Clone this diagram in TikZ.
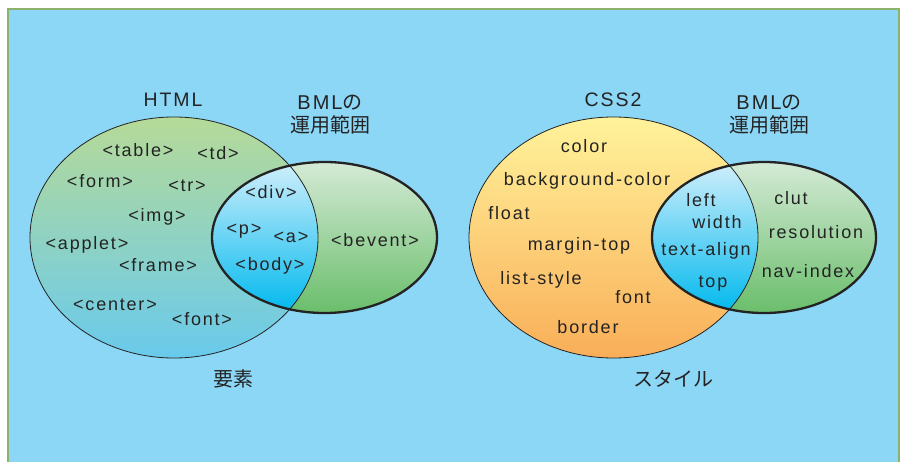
\documentclass[tikz,border=0pt]{standalone}
\usepackage{fontspec}
\setmainfont{Liberation Sans}[LetterSpace=10]
\newfontfamily\jp{Noto Sans CJK JP}
\usepackage{xcolor}
\definecolor{sky}{RGB}{140,214,246}
\definecolor{framegreen}{RGB}{141,178,107}
\definecolor{ink}{RGB}{35,35,35}
\definecolor{htmltop}{RGB}{182,218,152}
\definecolor{htmlbot}{RGB}{105,202,236}
\definecolor{csstop}{RGB}{255,243,155}
\definecolor{cssbot}{RGB}{249,174,88}
\definecolor{bmltop}{RGB}{212,234,214}
\definecolor{bmlbot}{RGB}{106,190,107}
\definecolor{captop}{RGB}{208,238,251}
\definecolor{capbot}{RGB}{0,185,238}

\begin{document}
\begin{tikzpicture}[x=1pt,y=-1pt,
lbl/.style={anchor=base,inner sep=0pt,text=ink,font=\fontsize{18}{21}\selectfont},
head/.style={lbl,font=\fontsize{19.5}{22}\selectfont},
jlbl/.style={anchor=base,inner sep=0pt,text=ink,align=center,font=\fontsize{20}{23}\selectfont},
thinline/.style={draw=ink,line width=0.8pt},
thickline/.style={draw=ink,line width=2.3pt}
]
\useasboundingbox (0,0) rectangle (901,462);
\fill[sky] (8,9) rectangle (899,462);
\draw[framegreen,line width=1.2pt] (8,462) -- (8,9) -- (899,9) -- (899,462);

% HTML / BML
\shade[top color=htmltop,bottom color=htmlbot] (174,237.5) ellipse (144 and 120.5);
\shade[top color=bmltop,bottom color=bmlbot] (324.5,237.5) ellipse (112.5 and 75.5);
\begin{scope}
\clip (174,237.5) ellipse (144 and 120.5);
\shade[top color=captop,bottom color=capbot] (324.5,237.5) ellipse (112.5 and 75.5);
\end{scope}
\draw[thinline] (174,237.5) ellipse (144 and 120.5);
\draw[thickline] (324.5,237.5) ellipse (112.5 and 75.5);

% CSS2 / BML
\shade[top color=csstop,bottom color=cssbot] (613.5,237.5) ellipse (144.5 and 120.5);
\shade[top color=bmltop,bottom color=bmlbot] (764,237.5) ellipse (112 and 75.5);
\begin{scope}
\clip (613.5,237.5) ellipse (144.5 and 120.5);
\shade[top color=captop,bottom color=capbot] (764,237.5) ellipse (112 and 75.5);
\end{scope}
\draw[thinline] (613.5,237.5) ellipse (144.5 and 120.5);
\draw[thickline] (764,237.5) ellipse (112 and 75.5);

\node[head] (html) at (173,107) {HTML};
\node[jlbl] (bmlA) at (330,132.5) {BML{\jp の}\\{\jp 運用範囲}};
\node[lbl] (table) at (138,157) {<table>};
\node[lbl] (td) at (218,160) {<td>};
\node[lbl] (form) at (100,188) {<form>};
\node[lbl] (tr) at (187,192) {<tr>};
\node[lbl] (img) at (157,222) {<img>};
\node[lbl] (div) at (271,199) {<div>};
\node[lbl] (p) at (244,235) {<p>};
\node[lbl] (a) at (291,242) {<a>};
\node[lbl] (applet) at (87,249) {<applet>};
\node[lbl] (frame) at (158,271) {<frame>};
\node[lbl] (body) at (270,270) {<body>};
\node[lbl] (bevent) at (375,247) {<bevent>};
\node[lbl] (center) at (115,310) {<center>};
\node[lbl] (fontel) at (202,325) {<font>};
\node[jlbl] (youso) at (233,386) {\jp 要素};

\node[head] (css) at (613,107) {CSS2};
\node[jlbl] (bmlB) at (769,132.5) {BML{\jp の}\\{\jp 運用範囲}};
\node[lbl] (color) at (584,153) {color};
\node[lbl] (bgcolor) at (587,186) {background-color};
\node[lbl] (float) at (509,219) {float};
\node[lbl] (left) at (701,207) {left};
\node[lbl] (width) at (717,229) {width};
\node[lbl] (clut) at (791,205) {clut};
\node[lbl] (resolution) at (816,239) {resolution};
\node[lbl] (margintop) at (579,251) {margin-top};
\node[lbl] (textalign) at (706,255) {text-align};
\node[lbl] (navindex) at (808,277) {nav-index};
\node[lbl] (liststyle) at (541,284) {list-style};
\node[lbl] (top) at (713,287) {top};
\node[lbl] (fontprop) at (633,303) {font};
\node[lbl] (border) at (588,333) {border};
\node[jlbl] (style) at (673,386) {\jp スタイル};
\end{tikzpicture}
\end{document}
